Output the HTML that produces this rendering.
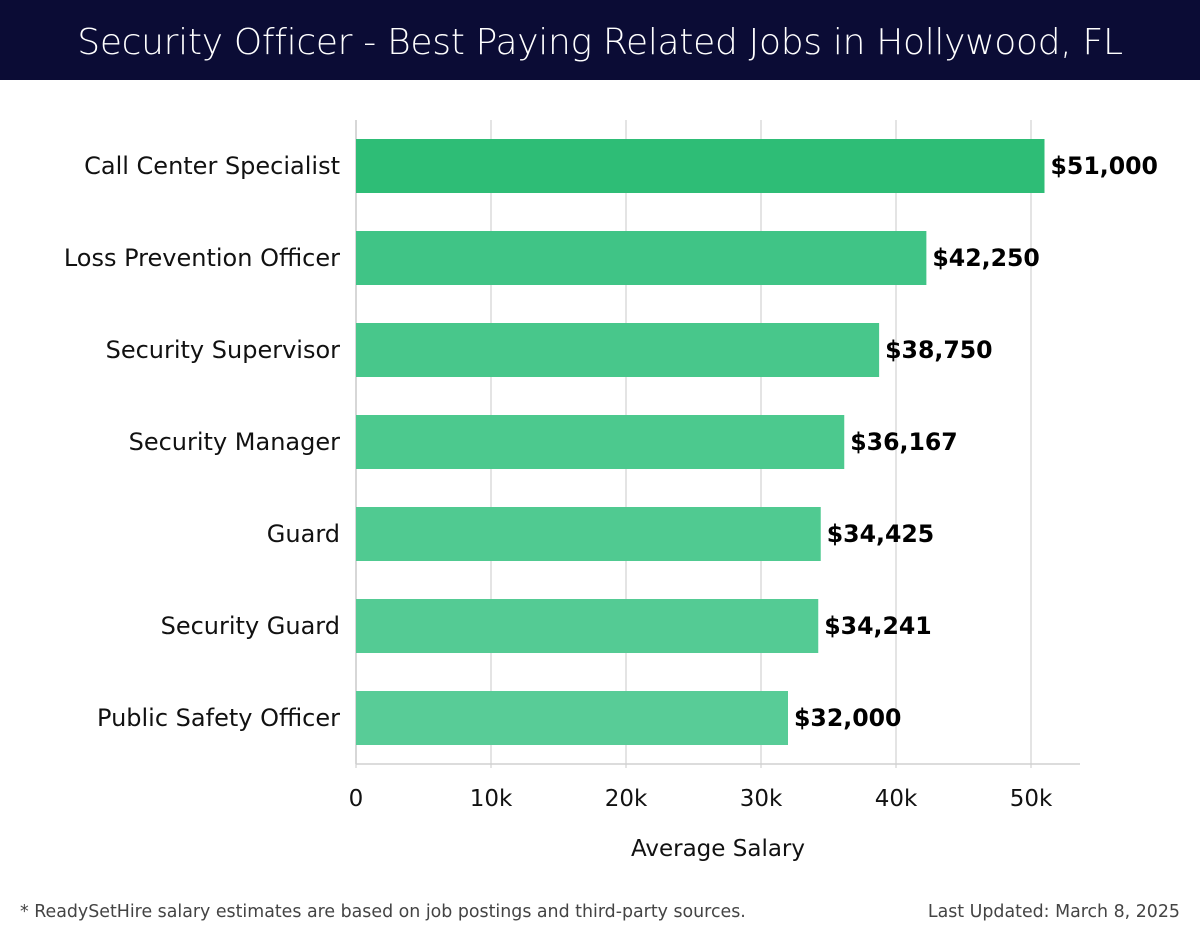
<!DOCTYPE html>
<html><head><meta charset="utf-8">
<style>
body{margin:0;width:1200px;height:940px;background:#fff;font-family:"Liberation Sans","DejaVu Sans",sans-serif;overflow:hidden;position:relative}
#hdr{position:absolute;left:0;top:0;width:1200px;height:80px;background:#0b0c35;color:#fff;font-size:36px;text-align:center;line-height:86px;font-family:"DejaVu Sans","Liberation Sans",sans-serif;font-weight:300;letter-spacing:-0.3px}
#chart{position:absolute;left:0;top:0}
.fn{position:absolute;top:902px;font-size:17.4px;color:#444;font-family:"DejaVu Sans","Liberation Sans",sans-serif}
</style></head><body>
<div id="hdr">Security Officer - Best Paying Related Jobs in Hollywood, FL</div>
<svg id="chart" width="1200" height="940"></svg>
<div class="fn" style="left:20px">* ReadySetHire salary estimates are based on job postings and third-party sources.</div>
<div class="fn" style="right:20px">Last Updated: March 8, 2025</div>
<script>
const categories=["Call Center Specialist","Loss Prevention Officer","Security Supervisor","Security Manager","Guard","Security Guard","Public Safety Officer"];
const values=[51000,42250,38750,36167,34425,34241,32000];
const valueLabels=["$51,000","$42,250","$38,750","$36,167","$34,425","$34,241","$32,000"];
const tickValues=[0,10000,20000,30000,40000,50000];
const tickLabels=["0","10k","20k","30k","40k","50k"];
const colors=["#2ebd76","#40c486","#48c78b","#4cc98e","#50ca91","#54cb94","#58cc97"];
const svg=document.getElementById('chart');const NS="http://www.w3.org/2000/svg";
const x0=356,pxPer=13.5/1000;
const X=v=>x0+v*pxPer;
const Y=i=>166+i*92;
function mk(t,a){const e=document.createElementNS(NS,t);for(const k in a)e.setAttribute(k,a[k]);svg.appendChild(e);return e;}
tickValues.forEach((v,i)=>{
 const g=mk('line',{x1:X(v),x2:X(v),y1:120,y2:768,stroke:'#dcdcdc','stroke-width':1.5});
 
 
 const t=mk('text',{x:X(v),y:806,'text-anchor':'middle','font-size':23,fill:'#111','font-family':'DejaVu Sans, Liberation Sans, sans-serif'});
 t.textContent=tickLabels[i];
 
 
});
const ax=mk('line',{x1:356,x2:1080,y1:764,y2:764,stroke:'#d0d0d0','stroke-width':1.5});


const ay=mk('line',{x1:356,x2:356,y1:120,y2:764,stroke:'#d0d0d0','stroke-width':1.5});


categories.forEach((c,i)=>{
 const b=mk('rect',{x:x0,y:Y(i)-27,width:X(values[i])-x0,height:54,fill:colors[i]});
 
 
 const l=mk('text',{x:340,y:Y(i)+8,'text-anchor':'end','font-size':24,fill:'#111','font-family':'DejaVu Sans, Liberation Sans, sans-serif'});
 l.textContent=c;
 
 
 const v=mk('text',{x:X(values[i])+6,y:Y(i)+8,'font-size':23.6,'font-weight':'bold',fill:'#000','font-family':'DejaVu Sans, Liberation Sans, sans-serif'});
 v.textContent=valueLabels[i];
 
 
});
const xt=mk('text',{x:718,y:856,'text-anchor':'middle','font-size':23,fill:'#111','font-family':'DejaVu Sans, Liberation Sans, sans-serif'});
xt.textContent="Average Salary";


</script>
</body></html>
